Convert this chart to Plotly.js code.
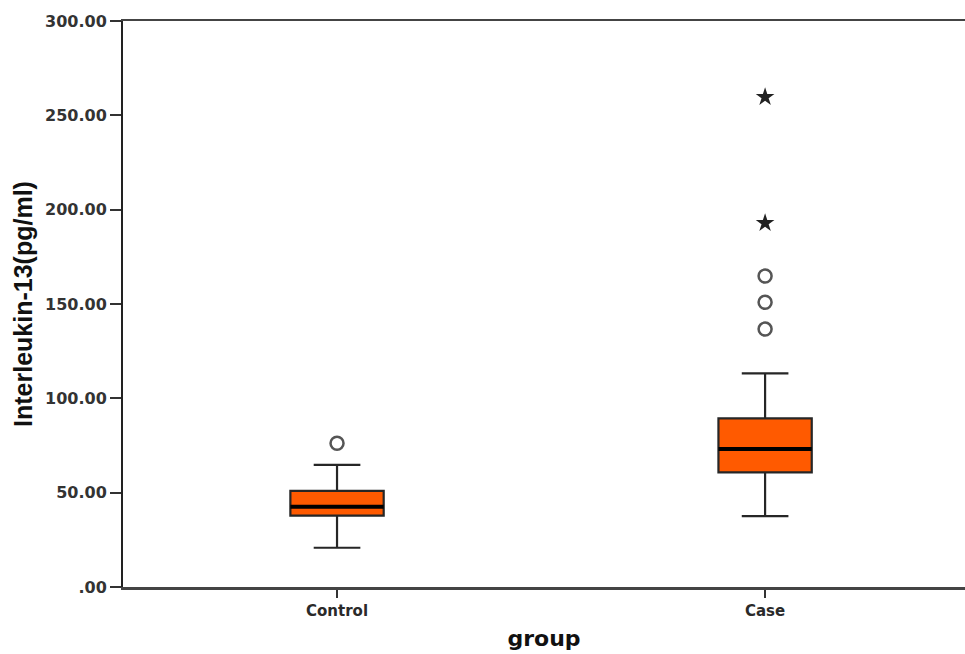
<!DOCTYPE html>
<html>
<head>
<meta charset="utf-8">
<script src="https://cdn.plot.ly/plotly-3.0.1.min.js"></script>
<style>html,body{margin:0;padding:0;background:#fff;}#chart{width:965px;height:654px;}</style>
</head>
<body>
<div id="chart"></div>
<script>
// Data
var groups = ["Control", "Case"];
var lowerWhisker = [20.8, 37.6];
var q1 = [37.8, 60.8];
var median = [42.6, 73.1];
var q3 = [51.0, 89.4];
var upperWhisker = [64.7, 113.2];
var outliersCircle = [[76.2], [136.7, 150.9, 164.8]];
var outliersStar = [[], [192.9, 259.7]];
var yTicks = [0, 50, 100, 150, 200, 250, 300];
var yTickLabels = [".00", "50.00", "100.00", "150.00", "200.00", "250.00", "300.00"];

var boxWidth = 0.218;
var traces = [];
groups.forEach(function (g, i) {
  traces.push({
    type: "box",
    x: [i],
    q1: [q1[i]], median: [median[i]], q3: [q3[i]],
    lowerfence: [lowerWhisker[i]], upperfence: [upperWhisker[i]],
    width: boxWidth,
    whiskerwidth: 0.5,
    fillcolor: "#ff5a00",
    line: { color: "#262626", width: 2.2 },
    boxpoints: false,
    showlegend: false,
    hoverinfo: "skip"
  });
  traces.push({
    type: "scatter", mode: "lines",
    x: [i - boxWidth / 2, i + boxWidth / 2],
    y: [median[i], median[i]],
    line: { color: "#000", width: 4 },
    showlegend: false, hoverinfo: "skip"
  });
  traces.push({
    type: "scatter", mode: "markers",
    x: outliersCircle[i].map(function () { return i; }),
    y: outliersCircle[i],
    marker: { symbol: "circle-open", size: 13, color: "#555", line: { width: 2.5, color: "#555" } },
    showlegend: false, hoverinfo: "skip"
  });
  traces.push({
    type: "scatter", mode: "markers",
    x: outliersStar[i].map(function () { return i; }),
    y: outliersStar[i],
    marker: { symbol: "star", size: 14, color: "#222", line: { width: 0 } },
    showlegend: false, hoverinfo: "skip"
  });
});

var layout = {
  width: 965, height: 654,
  margin: { l: 123, r: 0, t: 21, b: 67 },
  paper_bgcolor: "#fff", plot_bgcolor: "#fff",
  showlegend: false,
  xaxis: {
    range: [-0.5, 1.467],
    tickvals: [0, 1], ticktext: groups,
    ticks: "outside", ticklen: 8, tickwidth: 2, tickcolor: "#333",
    showline: true, linecolor: "#444", linewidth: 2.5, mirror: true,
    showgrid: false, zeroline: false,
    tickfont: { family: "DejaVu Sans", weight: "bold", size: 15, color: "#2a2a2a" },
    title: { text: "group", font: { family: "DejaVu Sans", weight: "bold", size: 22, color: "#111" }, standoff: 12 }
  },
  yaxis: {
    range: [0, 300],
    tickvals: yTicks, ticktext: yTickLabels,
    ticks: "outside", ticklen: 11, tickwidth: 2, tickcolor: "#333",
    showline: true, linecolor: "#222", linewidth: 2,
    showgrid: false, zeroline: false,
    tickfont: { family: "DejaVu Sans", weight: "bold", size: 16, color: "#333" },
    title: { text: "Interleukin-13(pg/ml)", font: { family: "Arial, Liberation Sans, sans-serif", weight: "bold", size: 25, color: "#111" }, standoff: 5 }
  }
};

Plotly.newPlot("chart", traces, layout, { staticPlot: true, displayModeBar: false });
</script>
</body>
</html>
